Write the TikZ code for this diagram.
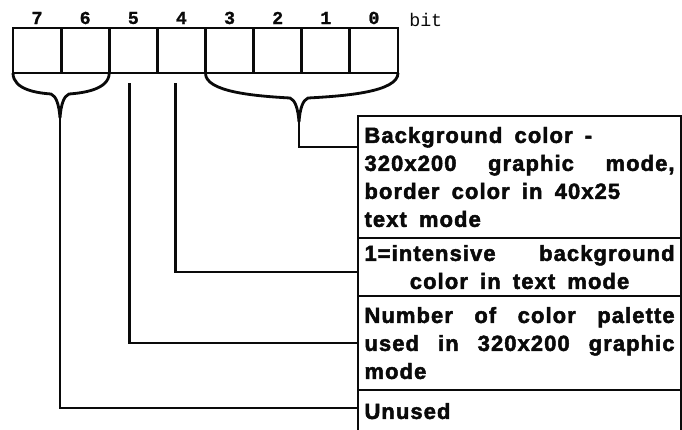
\documentclass[tikz,border=0pt]{standalone}
\usepackage{fontspec}
\usetikzlibrary{calc}
\setmainfont{Liberation Sans}
\newfontfamily\notefont[LetterSpace=5, WordSpace=1.7, FakeBold=2.2]{Liberation Sans Bold}
\newfontfamily\bitfont[FakeBold=1.2]{Liberation Mono Bold}
\newfontfamily\bitword{Liberation Mono}
\definecolor{InkBlack}{HTML}{0A0A0A}
\setlength{\parindent}{0pt}
\tikzset{
	bitcell/.style={draw=InkBlack, line width=2pt, minimum width=1.203cm, minimum height=1.125cm, inner sep=0pt, outer sep=0pt},
	bitnum/.style={font=\bitfont\fontsize{13}{15}\selectfont, text=InkBlack, inner sep=0pt},
	notebox/.style={draw=InkBlack, line width=2pt, anchor=north west, outer sep=0pt, minimum width=8.075cm, text width=7.75cm, inner xsep=0.1cm, inner ysep=0pt, align=justify, font=\notefont\fontsize{15.6}{19.9}\selectfont, text=InkBlack},
	wire/.style={draw=InkBlack, line width=2pt},
}

\begin{document}
\begin{tikzpicture}[x=0.025cm,y=-0.025cm]
	\useasboundingbox (0,0) rectangle (682,429);
	\clip (0,0) rectangle (682,429);
	\fill[white] (0,0) rectangle (682,429);

	% register cells, numbered 7 (left) to 0 (right)
	\foreach \i in {0,...,7} {
		\node[bitcell] (b\i) at ({37.06+(7-\i)*48.125},50.5) {};
		\node[bitnum] (n\i) at ($(b\i.north)+(0,-10)$) {\i};
	}
	\node[bitnum, font=\bitword\fontsize{13}{15}\selectfont, anchor=west] (bitlbl) at (409,20) {bit};

	% braces under bits 7-6 and 3-0
	\coordinate (tipA) at (60,118);
	\coordinate (tipB) at (299,122);
	\draw[wire] (b7.south west) .. controls (13,90) and (38,93) .. (51,94) .. controls (56,96) and (59,104) .. (tipA) .. controls (61,104) and (64,96) .. (69,94) .. controls (82,93) and (109,90) .. (b6.south east);
	\draw[wire] (b3.south west) .. controls (205,92) and (255,96) .. (290,98) .. controls (295,100) and (298,108) .. (tipB) .. controls (300,108) and (303,100) .. (308,98) .. controls (345,96) and (398,92) .. (b0.south east);

	\node[notebox, minimum height=3.05cm] (note1) at (358,116) {Background color -\newline 320x200 graphic mode,\linebreak border color in 40x25\newline text mode};
	\node[notebox, minimum height=1.45cm] (note2) at (note1.south west) {1=intensive background\linebreak\hspace*{\fill}color in text mode\hspace*{\fill}};
	\node[notebox, minimum height=2.35cm] (note3) at (note2.south west) {Number of color palette\linebreak used in 320x200 graphic\linebreak mode};
	\node[notebox, minimum height=1.05cm, align=left] (note4) at (note3.south west) {Unused};

	\draw[wire] (tipB) |- ($(note1.north west)+(0,31)$);
	\draw[wire] ($(b4.south)+(-6,10)$) |- ($(note2.west)+(0,5)$);
	\draw[wire] ($(b5.south)+(-4,10)$) |- (note3.west);
	\draw[wire] (tipA) |- ($(note4.north west)+(0,18)$);
\end{tikzpicture}
\end{document}
